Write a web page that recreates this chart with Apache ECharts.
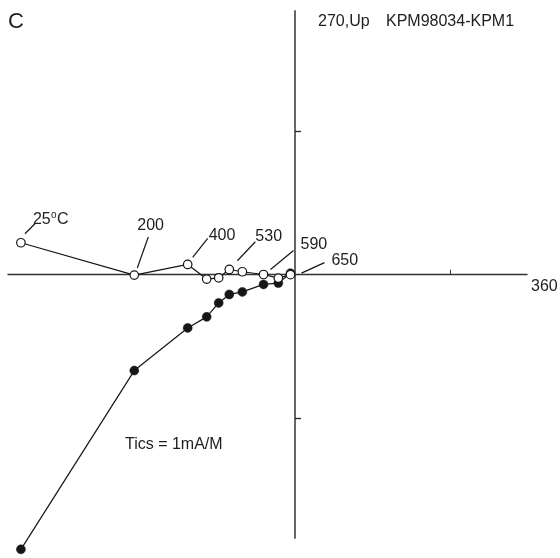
<!DOCTYPE html>
<html>
<head>
<meta charset="utf-8">
<script src="https://cdn.jsdelivr.net/npm/echarts@6/dist/echarts.min.js"></script>
<style>
  html, body { margin: 0; padding: 0; background: #fff; }
  #chart { width: 560px; height: 558px; }
</style>
</head>
<body>
<div id="chart"></div>
<script>
// horizontal component (shared by both projections), units of 1 mA/M
const horiz = [-1.760, -1.032, -0.689, -0.567, -0.490, -0.422, -0.338, -0.202, -0.107, -0.029]
// vertical plane projection (open circles)
const vertOpen = [0.222, -0.003, 0.071, -0.031, -0.022, 0.036, 0.020, 0.001, -0.024, 0.000]
// horizontal plane projection (filled circles)
const vertFilled = [-1.913, -0.668, -0.371, -0.294, -0.197, -0.138, -0.120, -0.068, -0.059, 0.010]
// demagnetization step labels and the point each one points at
const stepLabels = ['25', '200', '400', '530', '590', '650']
const stepIndex = [0, 1, 2, 6, 7, 9]
const xTicks = [1]
const yTicks = [-1, 1]

// leader / label offsets in pixels from the point: [x1, y1, x2, y2, textX, textY]
const leaderOffsets = [
  [4, -9, 14, -19, 12, -23],
  [3, -7, 14, -38, 3, -49],
  [5, -7, 20, -26, 21, -29],
  [-5, -11, 13, -30, 13, -35],
  [7, -5, 30, -24, 37, -30],
  [11, -1.5, 34, -12, 41, -14]
]

const font = '"Liberation Sans", Arial, Helvetica, sans-serif'
const ink = '#161616'

let chart = echarts.init(document.getElementById('chart'), null, { renderer: 'canvas' })

let option = {
  backgroundColor: '#fff',
  animation: false,
  grid: {
    left: 8,
    right: 33,
    top: 11,
    bottom: 20,
    containLabel: false
  },
  xAxis: {
    type: 'value',
    min: -1.843,
    max: 1.49,
    axisLine: {
      onZero: true,
      lineStyle: { color: '#333', width: 1.4 }
    },
    axisTick: {
      show: true,
      inside: true,
      length: 5,
      customValues: xTicks,
      lineStyle: { color: '#333', width: 1 }
    },
    axisLabel: { show: false },
    splitLine: { show: false }
  },
  yAxis: {
    type: 'value',
    min: -1.834,
    max: 1.836,
    axisLine: {
      show: true,
      onZero: true,
      lineStyle: { color: '#555', width: 1.8 }
    },
    axisTick: {
      show: true,
      inside: true,
      length: 6,
      customValues: yTicks,
      lineStyle: { color: '#222', width: 1.3 }
    },
    axisLabel: { show: false },
    splitLine: { show: false }
  },
  series: [
    {
      name: 'horizontal',
      type: 'line',
      clip: false,
      data: horiz.map((x, i) => [x, vertFilled[i]]),
      symbol: 'circle',
      symbolSize: 9,
      itemStyle: { color: ink, borderColor: ink, borderWidth: 0.5 },
      lineStyle: { color: ink, width: 1.2 },
      z: 3
    },
    {
      name: 'vertical',
      type: 'line',
      clip: false,
      data: horiz.map((x, i) => [x, vertOpen[i]]),
      symbol: 'circle',
      symbolSize: 8.5,
      showAllSymbol: true,
      itemStyle: { color: '#fff', borderColor: ink, borderWidth: 1.2 },
      lineStyle: { color: ink, width: 1.2 },
      z: 4
    }
  ]
}
chart.setOption(option)

// annotations anchored to the data points
let graphics = []
let textStyle = (text, x, y, size) => ({
  type: 'text',
  x: x,
  y: y,
  style: {
    text: text,
    fill: '#1e1e1e',
    font: size + 'px ' + font,
    textVerticalAlign: 'middle'
  },
  z: 10
})

stepLabels.forEach((lab, k) => {
  let i = stepIndex[k]
  let p = chart.convertToPixel({ gridIndex: 0 }, [horiz[i], vertOpen[i]])
  let o = leaderOffsets[k]
  graphics.push({
    type: 'line',
    shape: { x1: p[0] + o[0], y1: p[1] + o[1], x2: p[0] + o[2], y2: p[1] + o[3] },
    style: { stroke: ink, lineWidth: 1.2 },
    z: 10
  })
  graphics.push(textStyle(lab, p[0] + o[4], p[1] + o[5], 16))
  if (k === 0) {
    // degree mark and unit after the room-temperature step
    graphics.push(textStyle('o', p[0] + o[4] + 18, p[1] + o[5] - 5, 10))
    graphics.push(textStyle('C', p[0] + o[4] + 24, p[1] + o[5], 16))
  }
})

graphics.push(textStyle('C', 8, 22, 22))
graphics.push(textStyle('270,Up', 318, 22, 16))
graphics.push(textStyle('KPM98034-KPM1', 386, 22, 16))
graphics.push(textStyle('360', 531, 287, 16))
graphics.push(textStyle('Tics = 1mA/M', 125, 445, 16))

chart.setOption({ graphic: graphics })

window.addEventListener('resize', () => chart.resize())
</script>
</body>
</html>
